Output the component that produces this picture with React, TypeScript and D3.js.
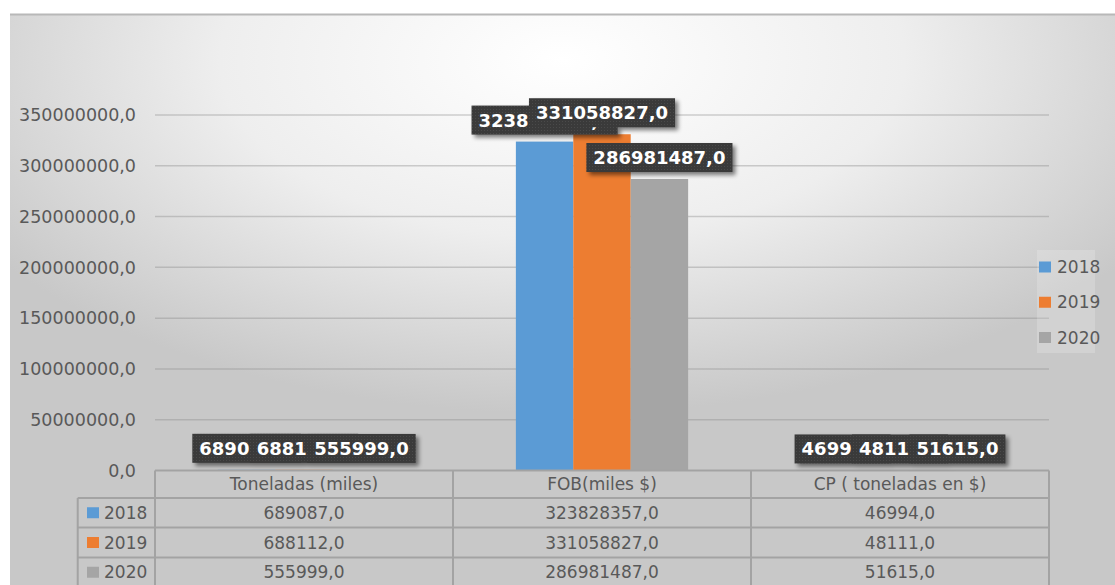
import React, { useEffect, useRef } from 'react';
import * as d3 from 'd3';

const categories = ['Toneladas (miles)', 'FOB(miles $)', 'CP ( toneladas en $)'];
const seriesNames = ['2018', '2019', '2020'];
const values2018 = [689087, 323828357, 46994];
const values2019 = [688112, 331058827, 48111];
const values2020 = [555999, 286981487, 51615];
const yTicks = [0, 50000000, 100000000, 150000000, 200000000, 250000000, 300000000, 350000000];
const seriesColors = ['#5b9bd5', '#ed7d31', '#a5a5a5'];

const W = 1115;
const H = 585;
const FONT = "'DejaVu Sans', sans-serif";
const TEXT_COLOR = '#595959';

const fmt = (v: number) => d3.format('.1f')(v).replace('.', ',');

export default function App() {
  const ref = useRef<SVGSVGElement | null>(null);

  useEffect(() => {
    const svg = d3.select(ref.current);
    svg.selectAll('*').remove();

    const series = [values2018, values2019, values2020];

    const defs = svg.append('defs');
    const rg = defs
      .append('radialGradient')
      .attr('id', 'bg')
      .attr('cx', '0.5')
      .attr('cy', '0.08')
      .attr('r', '0.62')
      .attr('fx', '0.5')
      .attr('fy', '0.08');
    rg.append('stop').attr('offset', '0').attr('stop-color', '#ffffff');
    rg.append('stop').attr('offset', '0.5').attr('stop-color', '#eeeeee');
    rg.append('stop').attr('offset', '1').attr('stop-color', '#c8c8c8');

    const pat = defs
      .append('pattern')
      .attr('id', 'dots')
      .attr('width', 3)
      .attr('height', 3)
      .attr('patternUnits', 'userSpaceOnUse');
    pat.append('rect').attr('width', 3).attr('height', 3).attr('fill', '#3a3a3a');
    pat.append('rect').attr('x', 1).attr('y', 1).attr('width', 1).attr('height', 1).attr('fill', '#4a4a4a');

    const flt = defs
      .append('filter')
      .attr('id', 'blur')
      .attr('x', '-20%')
      .attr('y', '-30%')
      .attr('width', '140%')
      .attr('height', '160%');
    flt.append('feGaussianBlur').attr('stdDeviation', 2.2);

    // background
    svg.append('rect').attr('x', 0).attr('y', 0).attr('width', W).attr('height', H).attr('fill', '#ffffff');
    svg
      .append('rect')
      .attr('x', 10)
      .attr('y', 14)
      .attr('width', W - 10)
      .attr('height', H - 14)
      .attr('fill', 'url(#bg)');
    svg
      .append('line')
      .attr('x1', 10)
      .attr('x2', W)
      .attr('y1', 14.5)
      .attr('y2', 14.5)
      .attr('stroke', '#b8b8b8')
      .attr('stroke-width', 2);

    const x = d3.scaleBand<string>().domain(categories).range([155, 1049]).paddingInner(0).paddingOuter(0);
    const y = d3.scaleLinear().domain([0, 350000000]).range([470.5, 115]);
    const xs = d3
      .scaleBand<string>()
      .domain(seriesNames)
      .range([0, x.bandwidth()])
      .paddingInner(0)
      .paddingOuter(1.095);

    // gridlines
    svg
      .append('g')
      .selectAll('line')
      .data(yTicks.filter((t) => t > 0))
      .join('line')
      .attr('x1', 155)
      .attr('x2', 1049)
      .attr('y1', (d) => y(d))
      .attr('y2', (d) => y(d))
      .attr('stroke', 'rgba(140,140,140,0.4)')
      .attr('stroke-width', 1.5);

    // y labels
    svg
      .append('g')
      .selectAll('text')
      .data(yTicks)
      .join('text')
      .attr('x', 136)
      .attr('y', (d) => y(d))
      .attr('dy', '0.36em')
      .attr('text-anchor', 'end')
      .attr('font-family', FONT)
      .attr('font-size', 17.5)
      .attr('fill', TEXT_COLOR)
      .text((d) => fmt(d));

    // bars
    const gBars = svg.append('g');
    series.forEach((vals, si) => {
      gBars
        .append('g')
        .selectAll('rect')
        .data(vals)
        .join('rect')
        .attr('x', (_, i) => (x(categories[i]) as number) + (xs(seriesNames[si]) as number))
        .attr('width', xs.bandwidth())
        .attr('y', (d) => y(d))
        .attr('height', (d) => y(0) - y(d))
        .attr('fill', seriesColors[si]);
    });

    // legend
    const lg = svg.append('g');
    lg.append('rect')
      .attr('x', 1037)
      .attr('y', 250)
      .attr('width', 58)
      .attr('height', 103)
      .attr('fill', 'rgba(255,255,255,0.18)');
    const legendY = d3.scalePoint<string>().domain(seriesNames).range([267, 337.5]);
    seriesNames.forEach((s, si) => {
      const cy = legendY(s) as number;
      lg.append('rect')
        .attr('x', 1039)
        .attr('y', cy - 5.5)
        .attr('width', 12)
        .attr('height', 11)
        .attr('fill', seriesColors[si]);
      lg.append('text')
        .attr('x', 1057)
        .attr('y', cy)
        .attr('dy', '0.36em')
        .attr('font-family', FONT)
        .attr('font-size', 17)
        .attr('fill', TEXT_COLOR)
        .text(s);
    });

    // data table
    const tb = svg.append('g');
    const rowY = [470.5, 498, 527.5, 557.5, 587];
    const tLeft = 77.7;
    const tStroke = '#a3a3a3';
    tb.append('line')
      .attr('x1', 155)
      .attr('x2', 1049)
      .attr('y1', rowY[0])
      .attr('y2', rowY[0])
      .attr('stroke', tStroke)
      .attr('stroke-width', 2);
    rowY.slice(1).forEach((ry) => {
      tb.append('line')
        .attr('x1', tLeft)
        .attr('x2', 1049)
        .attr('y1', ry)
        .attr('y2', ry)
        .attr('stroke', tStroke)
        .attr('stroke-width', 2);
    });
    tb.append('line')
      .attr('x1', tLeft)
      .attr('x2', tLeft)
      .attr('y1', rowY[1])
      .attr('y2', H)
      .attr('stroke', tStroke)
      .attr('stroke-width', 2);
    const vx = categories.map((c) => x(c) as number).concat([1049]);
    vx.forEach((xx) => {
      tb.append('line')
        .attr('x1', xx)
        .attr('x2', xx)
        .attr('y1', rowY[0])
        .attr('y2', H)
        .attr('stroke', tStroke)
        .attr('stroke-width', 2);
    });
    categories.forEach((c) => {
      tb.append('text')
        .attr('x', (x(c) as number) + x.bandwidth() / 2)
        .attr('y', (rowY[0] + rowY[1]) / 2)
        .attr('dy', '0.36em')
        .attr('text-anchor', 'middle')
        .attr('font-family', FONT)
        .attr('font-size', 17)
        .attr('fill', TEXT_COLOR)
        .text(c);
    });
    series.forEach((vals, si) => {
      const cy = (rowY[si + 1] + rowY[si + 2]) / 2;
      tb.append('rect')
        .attr('x', 87)
        .attr('y', cy - 5.5)
        .attr('width', 12)
        .attr('height', 11)
        .attr('fill', seriesColors[si]);
      tb.append('text')
        .attr('x', 104)
        .attr('y', cy)
        .attr('dy', '0.36em')
        .attr('font-family', FONT)
        .attr('font-size', 17)
        .attr('fill', TEXT_COLOR)
        .text(seriesNames[si]);
      vals.forEach((v, i) => {
        tb.append('text')
          .attr('x', (x(categories[i]) as number) + x.bandwidth() / 2)
          .attr('y', cy)
          .attr('dy', '0.36em')
          .attr('text-anchor', 'middle')
          .attr('font-family', FONT)
          .attr('font-size', 17)
          .attr('fill', TEXT_COLOR)
          .text(fmt(v));
      });
    });

    // data labels: shadows layer first, then boxes+text in series order
    const gShadow = svg.append('g').attr('filter', 'url(#blur)').attr('opacity', 0.5);
    const gl = svg.append('g');
    const boxH = 29;
    const padX = 7;
    series.forEach((vals, si) => {
      vals.forEach((v, i) => {
        const cx = (x(categories[i]) as number) + (xs(seriesNames[si]) as number) + xs.bandwidth() / 2;
        const bottom = y(v) - 7;
        const g = gl.append('g');
        const r = g.append('rect').attr('fill', 'url(#dots)');
        const t = g
          .append('text')
          .attr('font-family', FONT)
          .attr('font-weight', 'bold')
          .attr('font-size', 18)
          .attr('fill', '#ffffff')
          .attr('text-anchor', 'middle')
          .attr('x', cx)
          .attr('y', bottom - boxH / 2)
          .attr('dy', '0.36em')
          .text(fmt(v));
        const tw = (t.node() as SVGTextElement).getComputedTextLength();
        const bw = tw + padX * 2;
        r.attr('x', cx - bw / 2).attr('y', bottom - boxH).attr('width', bw).attr('height', boxH);
        gShadow
          .append('rect')
          .attr('x', cx - bw / 2 + 3)
          .attr('y', bottom - boxH + 3)
          .attr('width', bw)
          .attr('height', boxH)
          .attr('fill', '#000');
      });
    });
  }, []);

  return (
    <svg
      ref={ref}
      width={W}
      height={H}
      style={{ position: 'absolute', left: 0, top: 0, display: 'block' }}
    />
  );
}
